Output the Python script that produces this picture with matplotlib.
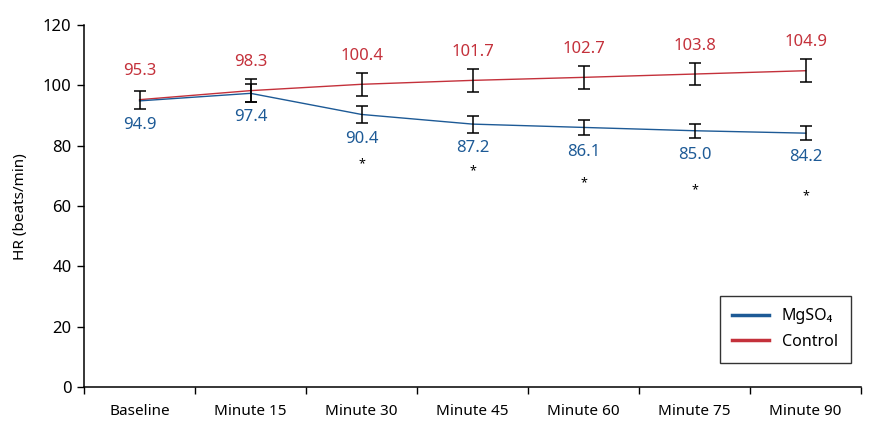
import numpy as np
import matplotlib
matplotlib.use("Agg")
import matplotlib.pyplot as plt
from matplotlib.lines import Line2D

plt.rcParams["font.family"] = ["Noto Sans", "DejaVu Sans"]

# data
timepoints = ["Baseline", "Minute 15", "Minute 30", "Minute 45",
              "Minute 60", "Minute 75", "Minute 90"]
mgso4_hr = [94.9, 97.4, 90.4, 87.2, 86.1, 85.0, 84.2]
mgso4_err = [3.0, 3.0, 2.7, 2.8, 2.6, 2.3, 2.4]
control_hr = [95.3, 98.3, 100.4, 101.7, 102.7, 103.8, 104.9]
control_err = [3.0, 3.7, 3.8, 3.7, 3.9, 3.8, 3.9]
# significance marks (* under MgSO4 points)
star_idx = [2, 3, 4, 5, 6]
star_y = [74.2, 71.7, 67.8, 65.3, 63.4]

blue = "#1d5a96"
red = "#c4313b"

fig = plt.figure(figsize=(8.8, 4.34), dpi=100)
ax = fig.add_axes([0.0955, 0.108, 0.883, 0.834])

x = np.arange(len(timepoints)) + 0.5

ax.plot(x, control_hr, color=red, lw=1.0, zorder=2)
ax.plot(x, mgso4_hr, color=blue, lw=1.0, zorder=3)
ax.errorbar(x, control_hr, yerr=control_err, fmt="none", ecolor="black",
            elinewidth=1.1, capsize=4, capthick=1.1, zorder=4)
ax.errorbar(x[1:], mgso4_hr[1:], yerr=mgso4_err[1:], fmt="none",
            ecolor="black", elinewidth=1.1, capsize=4, capthick=1.1, zorder=4)

for xi, v in zip(x, control_hr):
    ax.text(xi, v + 9.4, f"{v:.1f}", color=red, ha="center", va="center",
            fontsize=12)
for xi, v in zip(x, mgso4_hr):
    ax.text(xi, v - 8.0, f"{v:.1f}", color=blue, ha="center", va="center",
            fontsize=12)
for i, sy in zip(star_idx, star_y):
    ax.text(x[i], sy, "*", color="black", ha="center", va="center",
            fontsize=9)

ax.set_xlim(0, len(timepoints))
ax.set_ylim(0, 120)
ax.set_yticks(np.arange(0, 121, 20))
ax.set_xticks(np.arange(0, len(timepoints) + 1))
ax.set_xticklabels([])
ax.set_xticks(x, minor=True)
ax.set_xticklabels(timepoints, minor=True)
ax.tick_params(axis="x", which="major", length=5, width=1, direction="out")
ax.tick_params(axis="x", which="minor", length=0, pad=12, labelsize=11)
ax.tick_params(axis="y", length=5, width=1, labelsize=12, pad=4)

ax.spines["top"].set_visible(False)
ax.spines["right"].set_visible(False)
ax.spines["left"].set_linewidth(1.1)
ax.spines["bottom"].set_linewidth(1.1)

ax.set_ylabel("HR (beats/min)", fontsize=11, labelpad=11)

handles = [Line2D([0], [0], color=blue, lw=2.5),
           Line2D([0], [0], color=red, lw=2.5)]
leg = ax.legend(handles, ["MgSO\u2084", "Control"], loc="lower right",
                bbox_to_anchor=(0.997, 0.045), fontsize=11.5, frameon=True,
                fancybox=False, edgecolor="black", handlelength=2.3,
                borderpad=0.8, labelspacing=0.6)
leg.get_frame().set_linewidth(1.0)

fig.savefig("out.png", dpi=100)
